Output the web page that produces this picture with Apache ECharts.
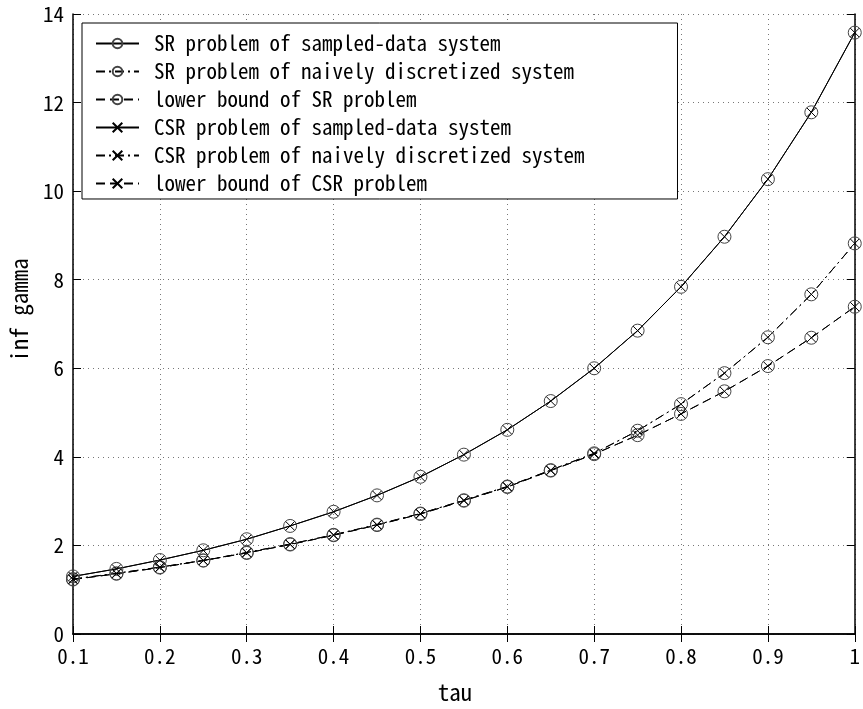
<!DOCTYPE html>
<html>
<head>
<meta charset="utf-8">
<script src="https://cdn.jsdelivr.net/npm/echarts@6/dist/echarts.min.js"></script>
<style>
  html, body { margin: 0; padding: 0; background: #fff; }
  #chart { width: 863px; height: 709px; }
</style>
</head>
<body>
<div id="chart"></div>
<script>
// Sampling parameter tau
const tau = [0.1, 0.15, 0.2, 0.25, 0.3, 0.35, 0.4, 0.45, 0.5, 0.55, 0.6, 0.65, 0.7, 0.75, 0.8, 0.85, 0.9, 0.95, 1.0];

// inf gamma for the SR problem
const srSampled = [1.30, 1.47, 1.67, 1.89, 2.14, 2.44, 2.76, 3.13, 3.55, 4.05, 4.61, 5.26, 6.00, 6.85, 7.84, 8.97, 10.27, 11.78, 13.58];
const srNaive   = [1.24, 1.37, 1.51, 1.66, 1.84, 2.03, 2.24, 2.47, 2.72, 3.02, 3.33, 3.70, 4.08, 4.59, 5.19, 5.89, 6.70, 7.67, 8.82];
const srBound   = [1.23, 1.36, 1.50, 1.66, 1.83, 2.02, 2.23, 2.46, 2.71, 3.01, 3.32, 3.69, 4.06, 4.49, 4.97, 5.48, 6.05, 6.69, 7.39];

// inf gamma for the CSR problem
const csrSampled = [1.30, 1.47, 1.67, 1.89, 2.14, 2.44, 2.76, 3.13, 3.55, 4.05, 4.61, 5.26, 6.00, 6.85, 7.84, 8.97, 10.27, 11.78, 13.58];
const csrNaive   = [1.24, 1.37, 1.51, 1.66, 1.84, 2.03, 2.24, 2.47, 2.72, 3.02, 3.33, 3.70, 4.08, 4.59, 5.19, 5.89, 6.70, 7.67, 8.82];
const csrBound   = [1.23, 1.36, 1.50, 1.66, 1.83, 2.02, 2.23, 2.46, 2.71, 3.01, 3.32, 3.69, 4.06, 4.49, 4.97, 5.48, 6.05, 6.69, 7.39];

// Axis ranges and tick steps
const xTicks = { min: 0.1, max: 1, step: 0.1 };
const yTicks = { min: 0, max: 14, step: 2 };

const names = [
  'SR problem of sampled-data system',
  'SR problem of naively discretized system',
  'lower bound of SR problem',
  'CSR problem of sampled-data system',
  'CSR problem of naively discretized system',
  'lower bound of CSR problem'
];

const FONT = "'Noto Sans Mono CJK JP', 'DejaVu Sans Mono', monospace";
const SOLID = 'solid';
const DASHDOT = [9, 4, 2, 4];
const DASHED = [9, 5];
const CROSS = 'path://M0,0L10,10M10,0L0,10';

function pairs(ys) { return tau.map((x, i) => [x, ys[i]]); }

function makeSeries(name, ys, dash, symbol, symColor, size) {
  return {
    name: name,
    type: 'line',
    data: pairs(ys),
    showAllSymbol: true,
    symbol: symbol,
    symbolSize: size,
    lineStyle: { color: '#000', width: 1, type: dash },
    itemStyle: { color: 'rgba(0,0,0,0)', borderColor: symColor, borderWidth: 1 },
    emphasis: { disabled: true },
    silent: true,
    animation: false
  };
}

const chart = echarts.init(document.getElementById('chart'), null, { renderer: 'canvas' });

const axisCommon = {
  axisLine: { show: true, lineStyle: { color: '#000', width: 1.5 } },
  axisTick: { show: true, inside: true, length: 8, lineStyle: { color: '#000', width: 1 } }
};

chart.setOption({
  animation: false,
  backgroundColor: '#fff',
  grid: { left: 73, right: 1, top: 14, bottom: 72, containLabel: false },
  xAxis: [
    Object.assign({
      type: 'value', min: xTicks.min, max: xTicks.max, interval: xTicks.step,
      position: 'bottom',
      name: 'tau', nameLocation: 'middle', nameGap: 47,
      nameTextStyle: { fontFamily: FONT, fontSize: 23, color: '#000', padding: [0, 18, 0, 0] },
      axisLabel: { fontFamily: FONT, fontSize: 21, color: '#000', margin: 12,
        formatter: v => String(Math.round(v * 10) / 10) },
      splitLine: { show: true, lineStyle: { color: '#777', width: 1, type: [1, 4] } }
    }, axisCommon),
    Object.assign({
      type: 'value', min: xTicks.min, max: xTicks.max, interval: xTicks.step,
      position: 'top',
      axisLabel: { show: false },
      splitLine: { show: false }
    }, axisCommon)
  ],
  yAxis: [
    Object.assign({
      type: 'value', min: yTicks.min, max: yTicks.max, interval: yTicks.step,
      position: 'left',
      name: 'inf gamma', nameLocation: 'middle', nameGap: 42,
      nameTextStyle: { fontFamily: FONT, fontSize: 23, color: '#000', padding: [0, 0, 0, 28] },
      axisLabel: { fontFamily: FONT, fontSize: 21, color: '#000', margin: 9 },
      splitLine: { show: true, lineStyle: { color: '#777', width: 1, type: [1, 4] } }
    }, axisCommon),
    Object.assign({
      type: 'value', min: yTicks.min, max: yTicks.max, interval: yTicks.step,
      position: 'right',
      axisLabel: { show: false },
      splitLine: { show: false }
    }, axisCommon)
  ],
  legend: {
    orient: 'vertical',
    left: 82,
    top: 23,
    padding: [10, 93, 5, 13],
    itemGap: 7,
    itemWidth: 43,
    itemHeight: 12,
    backgroundColor: '#fff',
    borderColor: '#000',
    borderWidth: 1,
    borderRadius: 0,
    selectedMode: false,
    textStyle: { fontFamily: FONT, fontSize: 21, color: '#000', lineHeight: 20, padding: [0, 0, 0, 10] },
    data: names
  },
  series: [
    makeSeries(names[0], srSampled, SOLID, 'circle', '#444', 13),
    makeSeries(names[1], srNaive, DASHDOT, 'circle', '#444', 13),
    makeSeries(names[2], srBound, DASHED, 'circle', '#444', 13),
    makeSeries(names[3], csrSampled, SOLID, CROSS, '#000', 9),
    makeSeries(names[4], csrNaive, DASHDOT, CROSS, '#000', 9),
    makeSeries(names[5], csrBound, DASHED, CROSS, '#000', 9)
  ]
});
</script>
</body>
</html>
